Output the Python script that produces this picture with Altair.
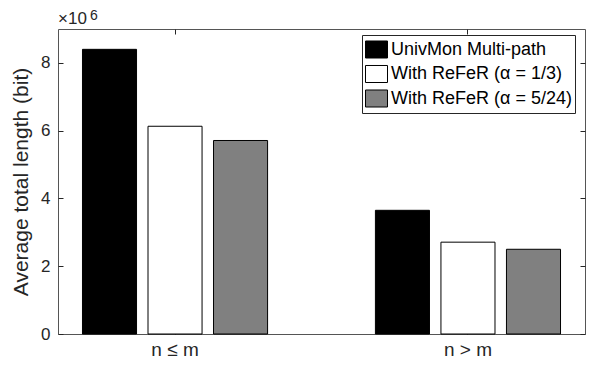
import altair as alt
import pandas as pd

categories = ["n ≤ m", "n > m"]
series = ["UnivMon Multi-path", "With ReFeR (α = 1/3)", "With ReFeR (α = 5/24)"]
univmon = [8.40e6, 3.65e6]
refer_13 = [6.13e6, 2.71e6]
refer_524 = [5.71e6, 2.50e6]
colors = ["#000000", "#ffffff", "#808080"]
y_ticks = [0, 2e6, 4e6, 6e6, 8e6]

rows = []
for s, vals in zip(series, [univmon, refer_13, refer_524]):
    for c, v in zip(categories, vals):
        rows.append({"category": c, "series": s, "value": v})
df = pd.DataFrame(rows)

FONT = "Liberation Sans"
TXT = "#262626"

bars = alt.Chart(df).mark_bar(stroke="black", strokeWidth=1).encode(
    x=alt.X(
        "category:N",
        sort=categories,
        scale=alt.Scale(paddingInner=0.329, paddingOuter=0.064),
        axis=alt.Axis(
            orient="bottom", title=None, labelAngle=0, offset=-5, tickSize=5,
            domain=False, labelPadding=6, labelFontSize=19, labelFont=FONT,
            labelColor=TXT, tickColor=TXT,
        ),
    ),
    xOffset=alt.XOffset(
        "series:N", sort=series,
        scale=alt.Scale(paddingInner=0.175, paddingOuter=0.0875),
    ),
    y=alt.Y(
        "value:Q",
        scale=alt.Scale(domain=[0, 9e6], nice=False),
        axis=alt.Axis(
            orient="left", values=y_ticks, labelExpr="datum.value / 1000000",
            title="Average total length (bit)", offset=-5, tickSize=5,
            domain=False, grid=False, labelPadding=8, labelFontSize=17,
            labelFont=FONT, labelColor=TXT, tickColor=TXT,
            titleFont=FONT, titleFontSize=21, titleFontWeight="normal",
            titleColor=TXT, titlePadding=9,
        ),
    ),
    color=alt.Color(
        "series:N", sort=series,
        scale=alt.Scale(domain=series, range=colors),
        legend=alt.Legend(
            title=None, orient="none", legendX=304, legendY=6,
            fillColor="white", strokeColor=TXT, padding=3,
            symbolType="M-1,-0.773L1,-0.773L1,0.773L-1,0.773Z",
            symbolSize=484, symbolStrokeColor="black", symbolStrokeWidth=1,
            symbolOpacity=1, labelFont=FONT, labelFontSize=18,
            labelColor="black", labelOffset=3, rowPadding=1.5,
            labelLimit=400,
        ),
    ),
)

frame = alt.Chart(df).mark_point(opacity=0).encode(
    x=alt.X(
        "category:N", sort=categories,
        axis=alt.Axis(orient="top", title=None, labels=False, offset=-5,
                      tickSize=5, domain=False, tickColor=TXT),
    ),
    y=alt.Y(
        "value:Q",
        axis=alt.Axis(orient="right", title=None, labels=False, offset=-5,
                      tickSize=5, domain=False, grid=False, values=y_ticks,
                      tickColor=TXT),
    ),
)

exp_base = alt.Chart(pd.DataFrame({"t": ["×10"]})).mark_text(
    align="left", baseline="alphabetic", font=FONT, fontSize=17, color=TXT
).encode(text="t:N", x=alt.value(0), y=alt.value(-5))

exp_pow = alt.Chart(pd.DataFrame({"t": ["6"]})).mark_text(
    align="left", baseline="alphabetic", font=FONT, fontSize=14, color=TXT
).encode(text="t:N", x=alt.value(32), y=alt.value(-9.5))

chart = (
    alt.layer(bars, frame, exp_base, exp_pow)
    .resolve_axis(x="independent", y="independent")
    .properties(
        width=527, height=305,
        padding={"left": 50, "top": 21, "right": 4, "bottom": 27},
        autosize=alt.AutoSizeParams(type="none"),
        background="white",
    )
    .configure_view(stroke="#555555", strokeWidth=1)
)

chart.save("out.html", embed_options={"renderer": "svg", "actions": False})
